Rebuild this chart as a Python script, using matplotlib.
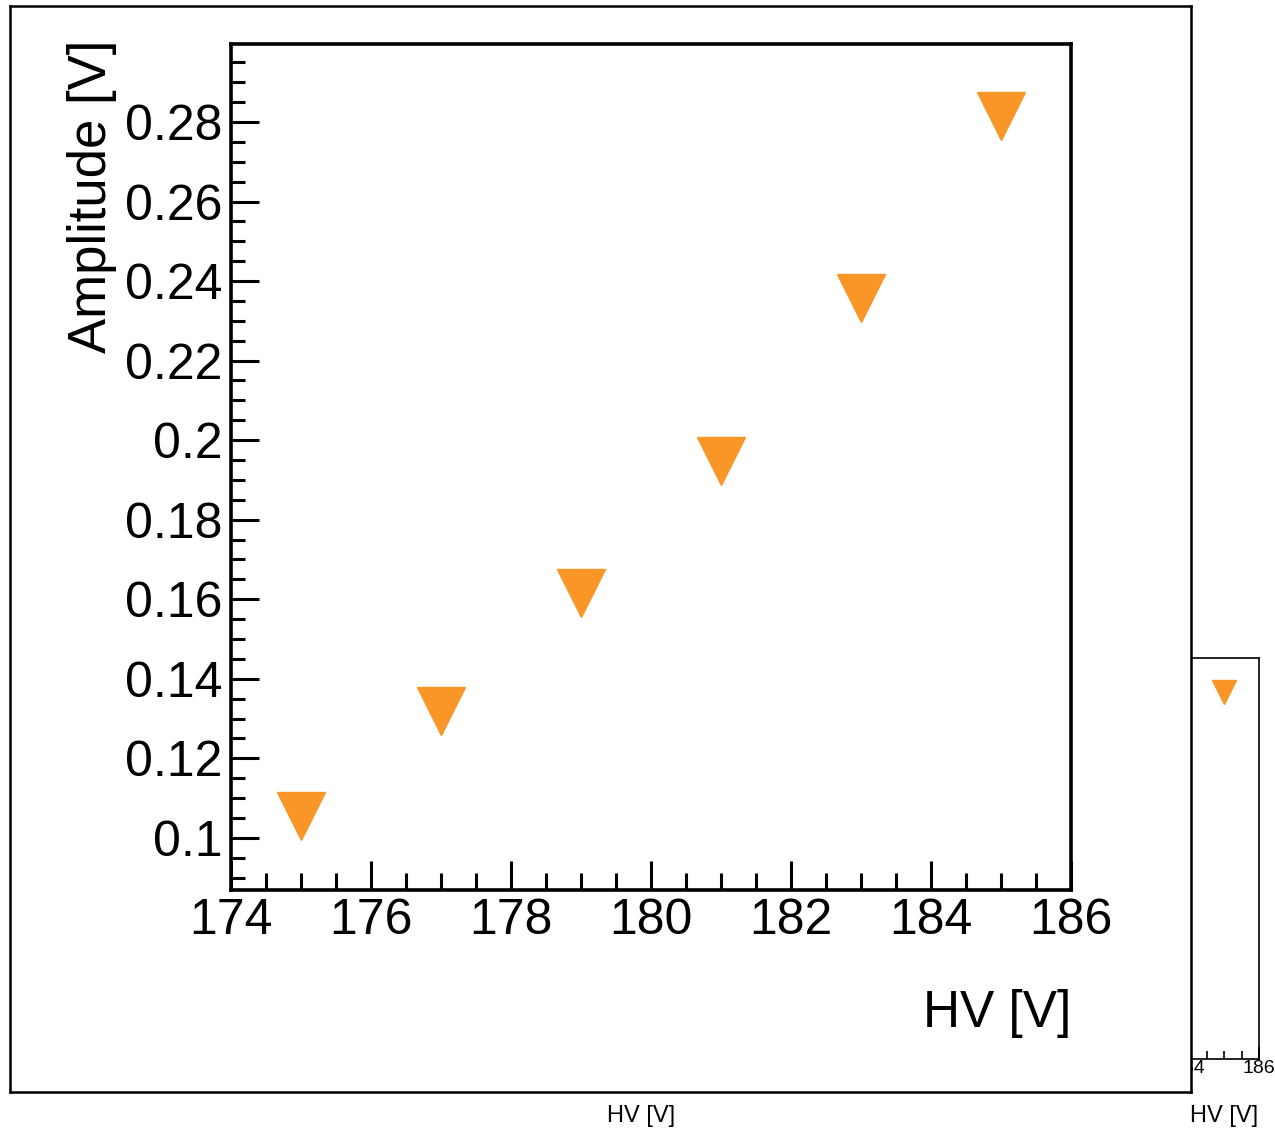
import matplotlib.pyplot as plt
from matplotlib.ticker import MultipleLocator

plt.rcParams['font.family'] = ['Liberation Sans', 'DejaVu Sans']

# data
hv = [175, 177, 179, 181, 183, 185]
amplitude = [0.1055, 0.1319, 0.1616, 0.1948, 0.2358, 0.2815]

xlim = (174, 186)
ylim = (0.0869, 0.2996)
orange = '#fa9628'

W, H = 1275, 1135
fig = plt.figure(figsize=(W / 100, H / 100), dpi=100)


def box(left, top, right, bottom):
    # pixel box -> figure fraction
    return [left / W, (H - bottom) / H, (right - left) / W, (bottom - top) / H]


# second (half size) pad, mostly hidden behind the main frame
small = fig.add_axes(box(839, 658, 1259, 1059))
small.set_zorder(0)
small.plot(hv, amplitude, linestyle='none', marker='v', markersize=17, color=orange)
small.set_xlim(xlim)
small.set_ylim(ylim)
small.xaxis.set_major_locator(MultipleLocator(2))
small.xaxis.set_minor_locator(MultipleLocator(0.5))
small.set_yticks([])
small.tick_params(axis='x', which='both', direction='in', top=False, labelsize=14, pad=1, width=1.2)
small.tick_params(axis='x', which='major', length=9)
small.tick_params(axis='x', which='minor', length=6)
for s in small.spines.values():
    s.set_linewidth(1.2)

# main frame
frame = fig.add_axes(box(10, 6, 1191, 1092))
frame.set_zorder(1)
frame.set_xticks([])
frame.set_yticks([])
frame.set_facecolor('white')
for s in frame.spines.values():
    s.set_linewidth(1.8)

# main plot
ax = fig.add_axes(box(231, 44, 1071, 890))
ax.set_zorder(2)
ax.plot(hv, amplitude, linestyle='none', marker='v', markersize=34.5, color=orange)
ax.set_xlim(xlim)
ax.set_ylim(ylim)
ax.xaxis.set_major_locator(MultipleLocator(2))
ax.xaxis.set_minor_locator(MultipleLocator(0.5))
ax.yaxis.set_major_locator(MultipleLocator(0.02))
ax.yaxis.set_minor_locator(MultipleLocator(0.005))
ax.yaxis.set_major_formatter(plt.FuncFormatter(lambda v, p: f'{v:g}'))
ax.tick_params(axis='both', which='both', direction='in', top=False, right=False,
               labelsize=36, width=2.2)
ax.tick_params(axis='x', which='major', length=21, pad=6)
ax.tick_params(axis='x', which='minor', length=12)
ax.tick_params(axis='y', which='major', length=20, pad=6)
ax.tick_params(axis='y', which='minor', length=10)
for s in ax.spines.values():
    s.set_linewidth(2.6)

fig.text(1071 / W, (H - 1027) / H, 'HV [V]', fontsize=37, ha='right', va='baseline')
fig.text(67 / W, (H - 40) / H, 'Amplitude [V]', fontsize=38, rotation=90, ha='left', va='top')
fig.text(641 / W, (H - 1122) / H, 'HV [V]', fontsize=17, ha='center', va='baseline')
fig.text(1258 / W, (H - 1122) / H, 'HV [V]', fontsize=17, ha='right', va='baseline')

fig.savefig('out.png', dpi=100)
